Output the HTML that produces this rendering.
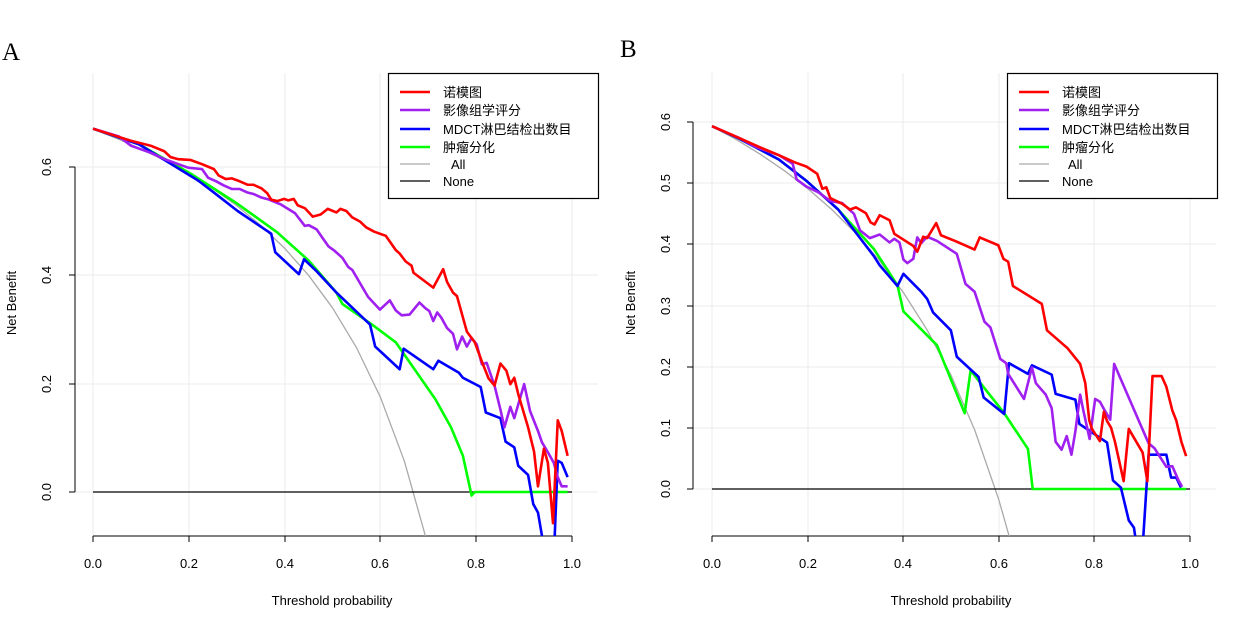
<!DOCTYPE html>
<html><head><meta charset="utf-8"><style>
body{margin:0;background:#fff}
svg{display:block}
text{font-family:"Liberation Sans","Noto Sans CJK SC",sans-serif;fill:#000}
.ln{fill:none;stroke-width:2.6;vector-effect:non-scaling-stroke;stroke-linejoin:round}
.g{stroke:#ebebeb;stroke-width:1}
</style></head><body>
<svg width="1241" height="629" viewBox="0 0 1241 629">
<defs>
<clipPath id="ca"><rect x="60" y="70" width="545" height="466"/></clipPath>
<clipPath id="cb"><rect x="680" y="70" width="545" height="466"/></clipPath>
</defs>
<text x="2" y="60" style="font-family:'Liberation Serif',serif;font-size:25px">A</text>
<text x="620" y="57" style="font-family:'Liberation Serif',serif;font-size:25px">B</text>

<!-- Panel A -->
<g class="g">
<line x1="93" y1="73" x2="93" y2="536"/><line x1="189" y1="73" x2="189" y2="536"/><line x1="285" y1="73" x2="285" y2="536"/><line x1="380" y1="73" x2="380" y2="536"/><line x1="476" y1="73" x2="476" y2="536"/><line x1="572" y1="73" x2="572" y2="536"/>
<line x1="75" y1="167" x2="598" y2="167"/><line x1="75" y1="275" x2="598" y2="275"/><line x1="75" y1="384" x2="598" y2="384"/><line x1="75" y1="492" x2="598" y2="492"/>
</g>
<g stroke="#000" stroke-width="1">
<line x1="75" y1="167" x2="75" y2="492"/>
<line x1="69" y1="167" x2="75" y2="167"/><line x1="69" y1="275" x2="75" y2="275"/><line x1="69" y1="384" x2="75" y2="384"/><line x1="69" y1="492" x2="75" y2="492"/>
<line x1="93" y1="536" x2="572" y2="536"/>
<line x1="93" y1="536" x2="93" y2="542"/><line x1="189" y1="536" x2="189" y2="542"/><line x1="285" y1="536" x2="285" y2="542"/><line x1="380" y1="536" x2="380" y2="542"/><line x1="476" y1="536" x2="476" y2="542"/><line x1="572" y1="536" x2="572" y2="542"/>
<line x1="93" y1="492" x2="572" y2="492"/>
</g>
<g font-size="13" text-anchor="middle">
<text x="93" y="568">0.0</text><text x="189" y="568">0.2</text><text x="285" y="568">0.4</text><text x="380" y="568">0.6</text><text x="476" y="568">0.8</text><text x="572" y="568">1.0</text>
<text transform="translate(51,167) rotate(-90)">0.6</text><text transform="translate(51,275) rotate(-90)">0.4</text><text transform="translate(51,384) rotate(-90)">0.2</text><text transform="translate(51,492) rotate(-90)">0.0</text>
<text x="332" y="605">Threshold probability</text>
<text transform="translate(16,303) rotate(-90)">Net Benefit</text>
</g>
<g clip-path="url(#ca)">
<polyline class="ln" stroke="#aaa" stroke-width="1.3" style="stroke-width:1.3" transform="matrix(479,0,0,-541.7,93,492)" points="0,.67 .05,.6526 .1,.6333 .15,.6118 .2,.5875 .25,.56 .3,.5286 .35,.4923 .4,.45 .45,.40 .5,.34 .55,.2667 .6,.175 .65,.0571 .7,-.10"/>
<line x1="93" y1="492" x2="572" y2="492" stroke="#000" stroke-width="1.3"/>
<g transform="matrix(0.3952,0,0,0.3548,0.52,61.98)">
<polyline class="ln" stroke="#00ff00" points="234,188 350,232 480,314 600,400 700,480 780,560 850,650 865,682 940,740 1000,790 1050,870 1100,950 1140,1030 1170,1110 1192,1222 1200,1212 1435,1212"/>
<polyline class="ln" stroke="#0000ff" points="234,188 350,232 500,334 540,368 600,420 685,484 695,536 755,598 768,556 800,590 850,650 935,740 948,802 1010,866 1020,808 1095,866 1108,842 1160,876 1170,890 1215,916 1228,988 1265,1004 1278,1070 1300,1086 1310,1138 1335,1164 1348,1246 1360,1270 1380,1400 1400,1400 1410,1124 1420,1130 1435,1170"/>
<polyline class="ln" stroke="#a020f0" points="234,188 300,210 330,236 380,256 420,276 450,288 475,298 510,302 525,326 545,336 565,348 585,358 605,358 625,368 640,372 660,382 680,388 710,402 745,426 770,462 780,460 800,472 830,520 845,532 865,552 880,578 890,586 930,662 960,698 985,672 1000,700 1015,714 1035,712 1060,678 1075,694 1085,702 1095,730 1105,706 1115,720 1130,750 1145,766 1155,810 1168,774 1180,802 1192,778 1205,796 1218,852 1230,848 1250,912 1265,980 1275,1030 1290,972 1300,1004 1325,908 1340,984 1360,1040 1370,1072 1385,1100 1400,1130 1410,1170 1420,1196 1435,1196"/>
<polyline class="ln" stroke="#ff0000" points="234,188 330,222 380,236 415,252 430,268 450,274 480,276 510,288 540,302 552,320 570,330 585,328 600,334 625,346 640,346 660,356 675,370 685,388 700,392 718,386 728,390 742,386 752,404 770,412 790,436 810,430 828,414 850,424 860,414 875,420 890,438 910,450 925,466 945,478 975,490 1000,530 1010,540 1025,562 1040,574 1045,594 1095,636 1120,584 1130,620 1145,650 1155,660 1170,720 1180,760 1200,790 1220,850 1235,892 1250,912 1265,850 1280,870 1290,908 1300,890 1310,936 1335,1030 1350,1098 1360,1196 1375,1090 1385,1130 1398,1300 1410,1010 1420,1040 1435,1110"/>
</g>
</g>
<rect x="388.5" y="73.5" width="210" height="125" fill="#fff" stroke="#000" stroke-width="1.2"/>
<g stroke-width="2.6">
<line x1="400" y1="92" x2="430" y2="92" stroke="#ff0000"/><line x1="400" y1="110" x2="430" y2="110" stroke="#a020f0"/><line x1="400" y1="129" x2="430" y2="129" stroke="#0000ff"/><line x1="400" y1="147" x2="430" y2="147" stroke="#00ff00"/><line x1="400" y1="164" x2="430" y2="164" stroke="#aaa" stroke-width="1.3"/><line x1="400" y1="181" x2="430" y2="181" stroke="#000" stroke-width="1.3"/>
</g>
<g font-size="13">
<text x="443" y="97">诺模图</text><text x="443" y="115">影像组学评分</text><text x="443" y="134">MDCT淋巴结检出数目</text><text x="443" y="152">肿瘤分化</text><text x="451" y="169">All</text><text x="443" y="186">None</text>
</g>

<!-- Panel B -->
<g class="g">
<line x1="712" y1="73" x2="712" y2="536"/><line x1="808" y1="73" x2="808" y2="536"/><line x1="903" y1="73" x2="903" y2="536"/><line x1="999" y1="73" x2="999" y2="536"/><line x1="1094" y1="73" x2="1094" y2="536"/><line x1="1190" y1="73" x2="1190" y2="536"/>
<line x1="693" y1="122" x2="1216" y2="122"/><line x1="693" y1="183" x2="1216" y2="183"/><line x1="693" y1="244" x2="1216" y2="244"/><line x1="693" y1="306" x2="1216" y2="306"/><line x1="693" y1="367" x2="1216" y2="367"/><line x1="693" y1="428" x2="1216" y2="428"/><line x1="693" y1="489" x2="1216" y2="489"/>
</g>
<g stroke="#000" stroke-width="1">
<line x1="693" y1="122" x2="693" y2="489"/>
<line x1="687" y1="122" x2="693" y2="122"/><line x1="687" y1="183" x2="693" y2="183"/><line x1="687" y1="244" x2="693" y2="244"/><line x1="687" y1="306" x2="693" y2="306"/><line x1="687" y1="367" x2="693" y2="367"/><line x1="687" y1="428" x2="693" y2="428"/><line x1="687" y1="489" x2="693" y2="489"/>
<line x1="712" y1="536" x2="1190" y2="536"/>
<line x1="712" y1="536" x2="712" y2="542"/><line x1="808" y1="536" x2="808" y2="542"/><line x1="903" y1="536" x2="903" y2="542"/><line x1="999" y1="536" x2="999" y2="542"/><line x1="1094" y1="536" x2="1094" y2="542"/><line x1="1190" y1="536" x2="1190" y2="542"/>
</g>
<g font-size="13" text-anchor="middle">
<text x="712" y="568">0.0</text><text x="808" y="568">0.2</text><text x="903" y="568">0.4</text><text x="999" y="568">0.6</text><text x="1094" y="568">0.8</text><text x="1190" y="568">1.0</text>
<text transform="translate(670,122) rotate(-90)">0.6</text><text transform="translate(670,183) rotate(-90)">0.5</text><text transform="translate(670,244) rotate(-90)">0.4</text><text transform="translate(670,306) rotate(-90)">0.3</text><text transform="translate(670,367) rotate(-90)">0.2</text><text transform="translate(670,428) rotate(-90)">0.1</text><text transform="translate(670,489) rotate(-90)">0.0</text>
<text x="951" y="605">Threshold probability</text>
<text transform="translate(635,303) rotate(-90)">Net Benefit</text>
</g>
<g clip-path="url(#cb)">
<polyline class="ln" stroke="#aaa" style="stroke-width:1.3" transform="matrix(478,0,0,-611.7,712,489)" points="0,.593 .05,.5716 .1,.5478 .15,.5212 .2,.4912 .25,.4573 .3,.4186 .35,.3738 .4,.3217 .45,.26 .5,.186 .55,.0956 .6,-.0175 .63,-.1"/>
<line x1="712" y1="489" x2="1190" y2="489" stroke="#000" stroke-width="1.3"/>
<g transform="matrix(0.3954,0,0,0.3574,620.7,59.4)">
<polyline class="ln" stroke="#00ff00" points="231,187 300,222 400,280 470,340 550,420 640,530 700,632 715,705 800,800 870,990 885,870 920,920 970,990 1000,1040 1030,1090 1042,1202 1430,1202"/>
<polyline class="ln" stroke="#0000ff" points="231,187 300,222 400,280 470,340 550,420 640,550 655,576 700,634 715,600 760,650 775,670 790,708 835,758 850,832 905,888 918,946 970,992 982,850 1030,880 1040,856 1090,882 1100,936 1150,952 1160,1020 1230,1072 1245,1178 1265,1198 1285,1290 1298,1310 1310,1400 1318,1400 1335,1106 1380,1106 1392,1170 1405,1170 1417,1198"/>
<polyline class="ln" stroke="#a020f0" points="231,187 300,220 340,244 400,268 435,292 445,336 470,356 500,372 530,396 560,402 590,432 605,478 630,500 655,490 680,512 692,502 705,512 715,560 725,570 740,558 750,498 760,514 775,496 800,508 850,544 872,628 895,650 920,734 935,750 960,838 975,850 980,880 1020,950 1040,862 1050,906 1075,938 1090,976 1100,1070 1115,1092 1128,1054 1140,1106 1150,1040 1162,938 1170,982 1186,1062 1200,950 1212,958 1225,984 1238,1008 1248,852 1335,1074 1350,1088 1380,1140 1395,1138 1410,1176 1420,1196"/>
<polyline class="ln" stroke="#ff0000" points="231,187 300,220 350,245 400,268 440,288 470,300 497,320 510,362 520,358 530,388 560,404 580,420 595,414 620,430 632,456 642,462 655,436 680,450 692,488 740,522 750,538 765,496 775,500 798,458 810,492 850,510 895,532 908,498 955,520 968,558 980,566 992,634 1065,684 1078,758 1130,808 1162,852 1175,906 1185,1010 1192,1034 1200,1048 1212,1068 1222,986 1230,1012 1240,1030 1250,1070 1272,1180 1285,1034 1320,1100 1332,1180 1345,886 1368,886 1380,916 1395,982 1405,1010 1418,1070 1430,1110"/>
</g>
</g>
<rect x="1007.5" y="73.5" width="210" height="125" fill="#fff" stroke="#000" stroke-width="1.2"/>
<g stroke-width="2.6">
<line x1="1019" y1="92" x2="1049" y2="92" stroke="#ff0000"/><line x1="1019" y1="110" x2="1049" y2="110" stroke="#a020f0"/><line x1="1019" y1="129" x2="1049" y2="129" stroke="#0000ff"/><line x1="1019" y1="147" x2="1049" y2="147" stroke="#00ff00"/><line x1="1019" y1="164" x2="1049" y2="164" stroke="#aaa" stroke-width="1.3"/><line x1="1019" y1="181" x2="1049" y2="181" stroke="#000" stroke-width="1.3"/>
</g>
<g font-size="13">
<text x="1062" y="97">诺模图</text><text x="1062" y="115">影像组学评分</text><text x="1062" y="134">MDCT淋巴结检出数目</text><text x="1062" y="152">肿瘤分化</text><text x="1068" y="169">All</text><text x="1062" y="186">None</text>
</g>
</svg>
</body></html>
